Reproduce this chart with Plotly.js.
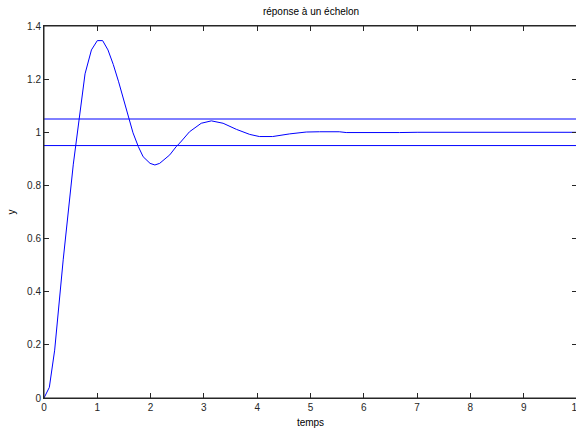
<!DOCTYPE html>
<html>
<head>
<meta charset="utf-8">
<script src="https://cdn.plot.ly/plotly-3.0.1.min.js"></script>
<style>
html,body{margin:0;padding:0;overflow:hidden;background:#fff;}
#chart{width:600px;height:428px;}
</style>
</head>
<body>
<div id="chart"></div>
<script>
var temps = [0,0.1,0.2,0.36,0.55,0.59,0.66,0.77,0.89,1.0,1.1,1.2,1.3,1.4,1.5,1.58,1.67,1.77,1.86,1.99,2.08,2.17,2.36,2.48,2.55,2.73,2.95,3.14,3.36,3.61,3.86,4.04,4.1,4.29,4.61,4.92,5.17,5.54,5.67,5.92,6.6,6.67,7,8,9,10];
var reponse = [0,0.04,0.18,0.52,0.88,0.95,1.05,1.22,1.31,1.345,1.345,1.31,1.255,1.19,1.12,1.059,0.998,0.946,0.908,0.883,0.877,0.883,0.915,0.946,0.96,1.002,1.034,1.043,1.034,1.011,0.992,0.984,0.984,0.984,0.994,1.001,1.002,1.002,0.999,0.999,0.997,0.999,1,1,1,1];
var tolTemps = [0,10];
var tolHaute = [1.05,1.05];
var tolBasse = [0.95,0.95];
var xTicks = [0,1,2,3,4,5,6,7,8,9,10];
var yTicks = [0,0.2,0.4,0.6,0.8,1,1.2,1.4];
var yTickText = ['0','0.2','0.4','0.6','0.8','1','1.2','1.4'];

function ls(){ return {color:'rgb(0,0,255)', width:1}; }
var traces = [
  {x:tolTemps, y:tolBasse, mode:'lines', line:ls(), hoverinfo:'none'},
  {x:tolTemps, y:tolHaute, mode:'lines', line:ls(), hoverinfo:'none'},
  {x:temps, y:reponse, mode:'lines', line:ls(), hoverinfo:'none'}
];
var AX = '#262626';
function axisCommon(){
  return {
    showline:true, linecolor:AX, linewidth:1, mirror:'ticks',
    ticks:'inside', ticklen:5, tickcolor:AX, tickwidth:1,
    showgrid:false, zeroline:false, ticklabeloverflow:'allow',
    tickfont:{family:'Liberation Sans, Arial, sans-serif', size:10, color:AX}
  };
}
var fnt = function(){ return {family:'Liberation Sans, Arial, sans-serif', size:10, color:'#000'}; };
var xa = axisCommon();
xa.range = [0,10]; xa.tickvals = xTicks; xa.ticktext = xTicks.map(String);
xa.title = {text:'temps', font:fnt(), standoff:6};
var ya = axisCommon();
ya.range = [0,1.4]; ya.tickvals = yTicks; ya.ticktext = yTickText;
ya.title = {text:'y', font:fnt(), standoff:9};
var layout = {
  width:600, height:428,
  margin:{l:44, r:23, t:26, b:30},
  paper_bgcolor:'#fff', plot_bgcolor:'#fff',
  showlegend:false,
  title:{text:'réponse à un échelon', font:fnt(), x:311/600, xanchor:'center', y:0.972, yanchor:'middle'},
  xaxis:xa, yaxis:ya,
  shapes:[{type:'rect', xref:'paper', yref:'paper', x0:0, x1:1, y0:0, y1:1, line:{color:AX, width:1}, layer:'above'}]
};
Plotly.newPlot('chart', traces, layout, {staticPlot:true, displayModeBar:false});
</script>
</body>
</html>
